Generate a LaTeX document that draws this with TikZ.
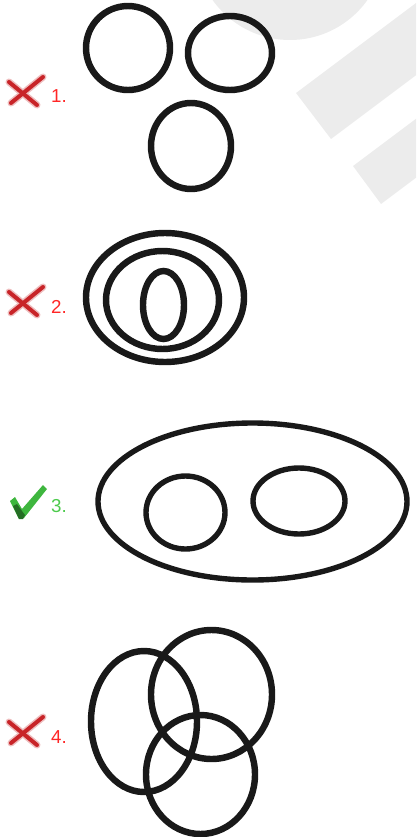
\documentclass[tikz,border=0pt]{standalone}
\usepackage{fontspec}
\setmainfont{Liberation Sans}
\usetikzlibrary{positioning}
\definecolor{markred}{RGB}{200, 36, 40}
\definecolor{labelred}{RGB}{255, 38, 38}
\definecolor{markgreen}{RGB}{62, 182, 62}
\definecolor{labelgreen}{RGB}{76, 202, 76}
\definecolor{watermark}{RGB}{236, 236, 236}

\begin{document}
\begin{tikzpicture}[x=0.03cm, y=-0.03cm,
    ring/.style={line width=5.5pt, black!90},
    thinring/.style={line width=4.6pt, black!90},
    numlabel/.style={anchor=base west, inner sep=0pt, font=\fontsize{16}{16}\selectfont}]
    \useasboundingbox (0, 0) rectangle (416, 837);

    % Watermark in the background
    \begin{scope}
        \clip (0, 0) rectangle (416, 837);
        \fill[watermark] (290, -55) circle (95);
        \fill[watermark] (296, 93) -- (331, 139) -- (491, 19) -- (456, -27) -- cycle;
        \fill[watermark] (353, 166) -- (381, 204) -- (541, 84) -- (513, 46) -- cycle;
    \end{scope}

    % Figure 1: three separate circles
    \draw[ring] (128, 48) ellipse [x radius=42, y radius=42];
    \draw[ring] (230, 53) ellipse [x radius=42, y radius=37];
    \draw[ring] (191, 146) ellipse [x radius=40, y radius=43];

    % Figure 2: nested rings
    \draw[ring] (165, 297.5) ellipse [x radius=79, y radius=64.5];
    \draw[ring] (162.5, 300) ellipse [x radius=56.5, y radius=49];
    \draw[ring] (163.5, 305) ellipse [x radius=20.5, y radius=34];

    % Figure 3: two disjoint sets in a big one
    \draw[thinring] (252.5, 501.5) ellipse [x radius=154.5, y radius=78.5];
    \draw[thinring] (185.5, 512.5) ellipse [x radius=39.5, y radius=36.5];
    \draw[thinring] (299, 501) ellipse [x radius=46, y radius=33];

    % Figure 4: three overlapping ovals
    \draw[ring] (144, 721.5) ellipse [x radius=53, y radius=70.5];
    \draw[ring] (211.5, 694.5) ellipse [x radius=60.5, y radius=64.5];
    \draw[ring] (200.5, 774.5) ellipse [x radius=54.5, y radius=59.5];

    % Wrong marks
    \foreach \dy in {0, 210, 640} {
        \draw[line width=6pt, markred!30, line cap=round] (43, 77+\dy) -- (11, 103+\dy);
        \draw[line width=6pt, markred!30, line cap=round] (9, 82+\dy) -- (37, 105+\dy);
        \draw[line width=3.4pt, markred, line cap=round] (43, 77+\dy) -- (11, 103+\dy);
        \draw[line width=3.4pt, markred, line cap=round] (9, 82+\dy) -- (37, 105+\dy);
    }

    % Right mark
    \fill[markgreen] (10, 501) -- (15, 497) -- (22, 509) -- (43, 485) -- (47, 489) -- (24, 518) -- (19, 519) -- cycle;
    \fill[markgreen!60!black] (13, 506) -- (17, 504) -- (22, 511) -- (25, 515) -- (23, 519) -- (19, 519) -- cycle;

    % Labels
    \node[numlabel, text=labelred] (lab1) at (51, 102) {1.};
    \node[numlabel, text=labelred] (lab2) at (51, 313) {2.};
    \node[numlabel, text=labelgreen] (lab3) at (51, 512) {3.};
    \node[numlabel, text=labelred] (lab4) at (51, 743) {4.};
\end{tikzpicture}
\end{document}
